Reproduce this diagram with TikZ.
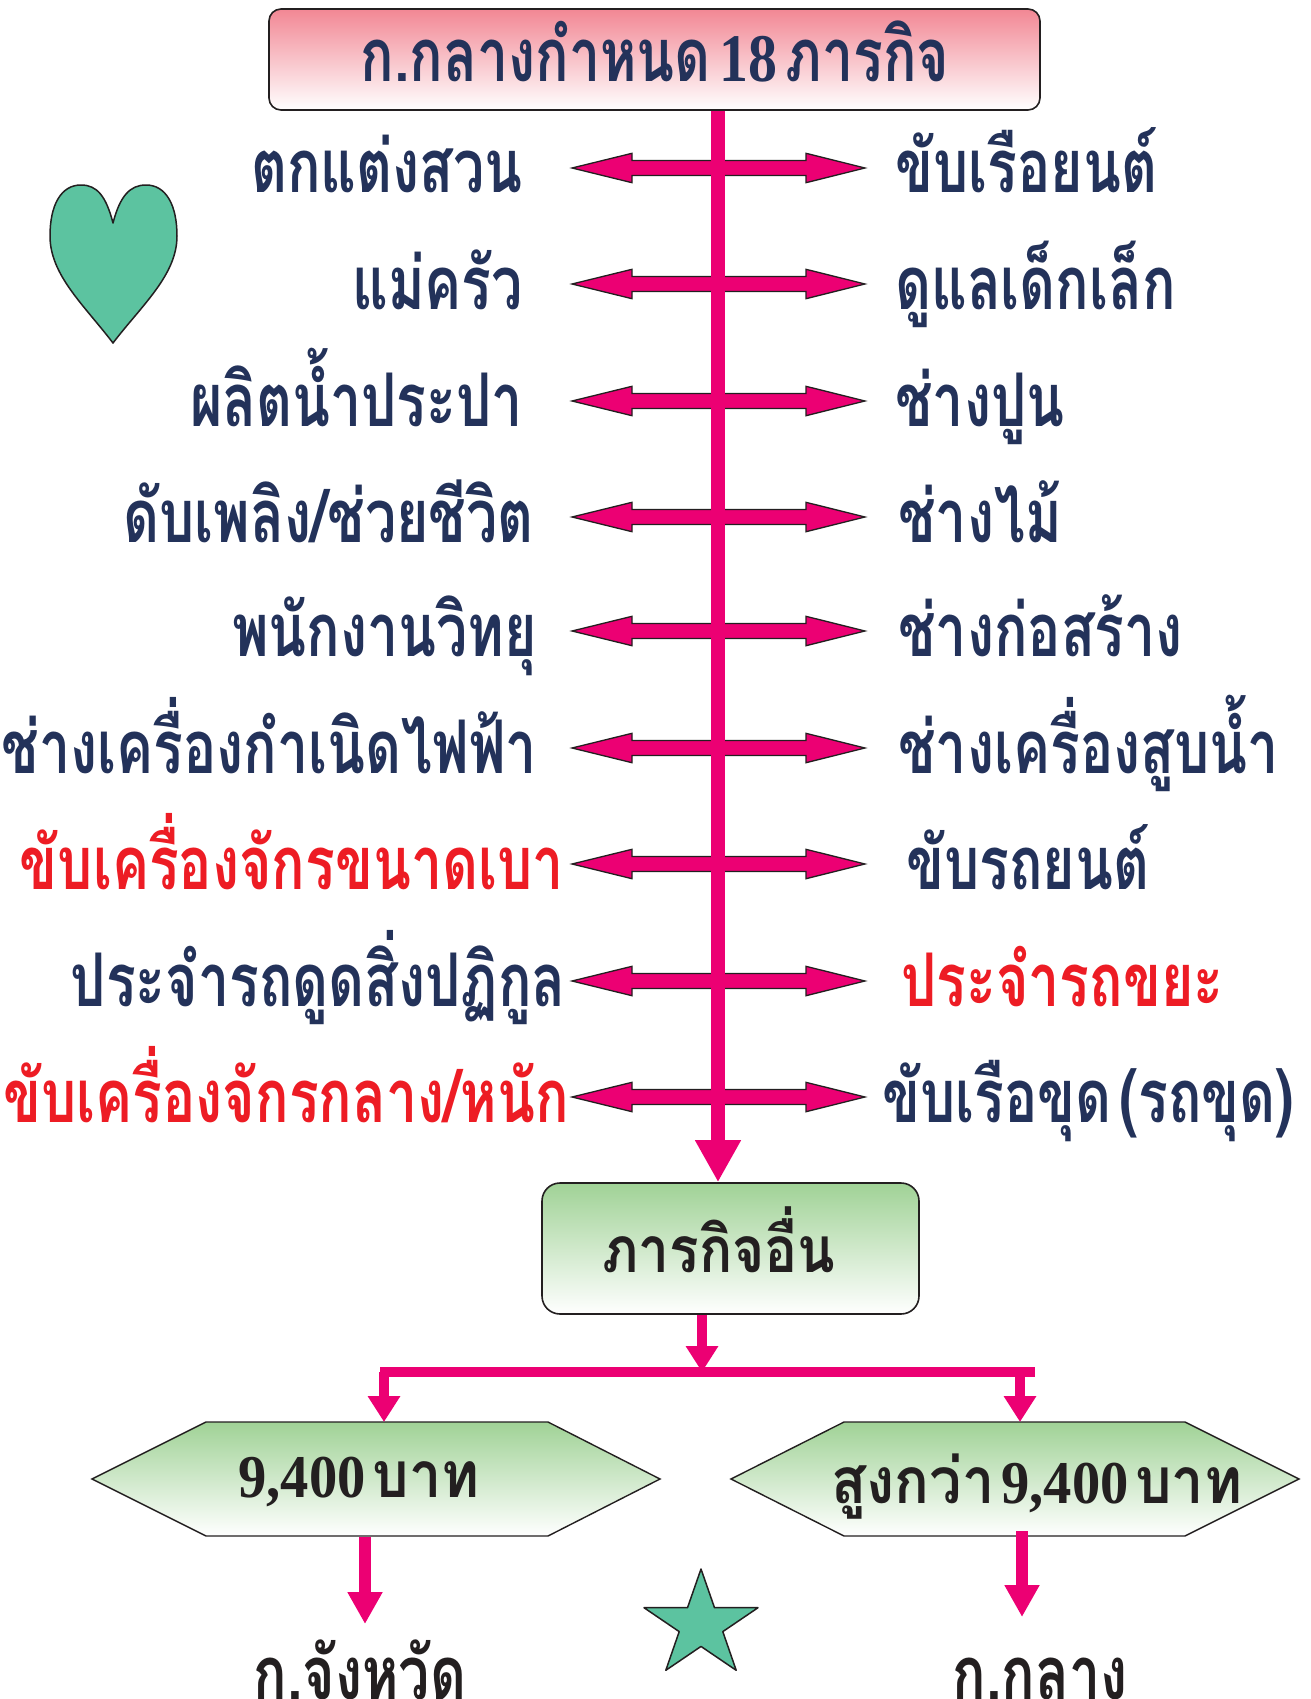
\documentclass[tikz,border=0pt]{standalone}
\usepackage{fontspec}
\newfontfamily\thai[Script=Thai,FakeStretch=0.75,WordSpace=0.45]{Loma}
\newfontfamily\thaib[Script=Thai,FakeStretch=0.86]{Loma}
\newfontfamily\thaic[Script=Thai,FakeStretch=0.9,WordSpace=0.35]{Loma}
\newfontfamily\numf[FakeStretch=0.85,Scale=0.92]{Liberation Serif}
\newfontfamily\numh[FakeStretch=0.93,Scale=0.95]{Liberation Serif}
\usetikzlibrary{arrows.meta}
\definecolor{navy}{RGB}{35,50,90}
\definecolor{redt}{RGB}{237,28,36}
\definecolor{pinkA}{RGB}{236,0,115}
\definecolor{boxpink}{RGB}{242,135,148}
\definecolor{boxgreen}{RGB}{160,210,150}
\definecolor{tealf}{RGB}{92,195,160}
\definecolor{ink}{RGB}{35,31,32}
\tikzset{
  thl/.style={font=\thai\bfseries\fontsize{74}{80}\selectfont, inner sep=0pt},
  thb/.style={font=\thaib\bfseries\fontsize{64}{70}\selectfont, inner sep=0pt},
  thh/.style={font=\thaic\bfseries\fontsize{64}{70}\selectfont, inner sep=0pt},
  lab/.style={thl, text=navy},
  labred/.style={thl, text=redt},
  lableft/.style={anchor=base east},
  labright/.style={anchor=base west},
  pinkbox/.style={draw=ink, line width=1.6pt, rounded corners=12pt, top color=boxpink, bottom color=white, inner sep=0pt},
  greenbox/.style={draw=ink, line width=1.6pt, rounded corners=18pt, top color=boxgreen, bottom color=white, inner sep=0pt},
  hexa/.style={draw=ink, line width=1.4pt, top color=boxgreen, bottom color=white},
  dblarr/.style={fill=pinkA, draw=ink, line width=1.3pt, line join=miter},
  spine/.style={draw=pinkA, line width=14pt, line cap=butt, -{Triangle[width=43pt,length=42pt]}},
  conn/.style={draw=pinkA, line width=10pt, line cap=butt},
  connarr/.style={conn, -{Triangle[width=31pt,length=26pt]}},
  lowarr/.style={draw=pinkA, line width=12pt, line cap=butt, -{Triangle[width=33pt,length=32pt]}},
  deco/.style={fill=tealf, draw=ink, line width=1.5pt, line join=round}
}
\begin{document}
\begin{tikzpicture}[x=1pt,y=-1pt]
\useasboundingbox (0,0) rectangle (1310,1699);

% title box
\node[pinkbox, minimum width=771pt, minimum height=101pt] (title) at (654.5,59.5) {};
\node[lab, anchor=base] (titletxt) at (655,82) {ก.กลางกำหนด {\numf 18} ภารกิจ};

% other-missions box
\node[greenbox, minimum width=377pt, minimum height=131pt] (other) at (730.5,1248.5) {};
\node[thb, text=ink, anchor=base] (othertxt) at (719,1272) {ภารกิจอื่น};

% double arrows
\foreach \y in {168,284,401,517,631,748,864,981,1097}{
  \path[dblarr] (572,\y) -- (632,{\y-14.7}) -- (632,{\y-7.5}) -- (806,{\y-7.5}) -- (806,{\y-14.7})
     -- (865,\y) -- (806,{\y+14.7}) -- (806,{\y+7.5}) -- (632,{\y+7.5}) -- (632,{\y+14.7}) -- cycle;
}

% spine
\coordinate (sp) at (718,0);
\draw[spine] (title.south -| sp) -- (other.north -| sp);

% left labels
\node[lab, lableft] (l1) at (523,193) {ตกแต่งสวน};
\node[lab, lableft] (l2) at (523,309) {แม่ครัว};
\node[lab, lableft] (l3) at (523,426) {ผลิตน้ำประปา};
\node[lab, lableft] (l4) at (534,542) {ดับเพลิง/ช่วยชีวิต};
\node[lab, lableft] (l5) at (537,656) {พนักงานวิทยุ};
\node[lab, lableft] (l6) at (537,773) {ช่างเครื่องกำเนิดไฟฟ้า};
\node[labred, lableft] (l7) at (564,889) {ขับเครื่องจักรขนาดเบา};
\node[lab, lableft] (l8) at (566,1006) {ประจำรถดูดสิ่งปฏิกูล};
\node[labred, lableft] (l9) at (569,1122) {ขับเครื่องจักรกลาง/หนัก};

% right labels
\node[lab, labright] (r1) at (895,193) {ขับเรือยนต์};
\node[lab, labright] (r2) at (895,309) {ดูแลเด็กเล็ก};
\node[lab, labright] (r3) at (895,426) {ช่างปูน};
\node[lab, labright] (r4) at (898,542) {ช่างไม้};
\node[lab, labright] (r5) at (898,656) {ช่างก่อสร้าง};
\node[lab, labright] (r6) at (898,773) {ช่างเครื่องสูบน้ำ};
\node[lab, labright] (r7) at (906,889) {ขับรถยนต์};
\node[labred, labright] (r8) at (901,1006) {ประจำรถขยะ};
\node[lab, labright] (r9) at (882,1122) {ขับเรือขุด (รถขุด)};

% branch
\coordinate (br) at (702,1372);
\coordinate (hl) at (380,1372);
\coordinate (hr) at (1035,1372);
\draw[connarr] (other.south -| br) -- (br);
\draw[conn] (hl) -- (hr);

% hexagons
\coordinate (h1top) at (384,1422);
\coordinate (h2top) at (1020,1422);
\path[hexa] (92,1479) -- (206,1422) -- (548,1422) -- (660,1479) -- (548,1536) -- (206,1536) -- cycle;
\path[hexa] (731,1479) -- (844,1422) -- (1185,1422) -- (1299,1479) -- (1185,1536) -- (844,1536) -- cycle;
\node[thh, text=ink, anchor=base] (h1) at (359,1497) {{\numh 9,400} บาท};
\node[thh, text=ink, anchor=base] (h2) at (1037,1503) {สูงกว่า {\numh 9,400} บาท};
\draw[connarr] (h1top |- hl) -- (h1top);
\draw[connarr] (h2top |- hl) -- (h2top);

% bottom
\node[thl, text=ink, anchor=base] (prov) at (360,1699) {ก.จังหวัด};
\node[thl, text=ink, anchor=base] (cent) at (1040,1699) {ก.กลาง};
\coordinate (a1s) at (365,1537);
\coordinate (a2s) at (1022,1531);
\draw[lowarr] (a1s) -- (365,1624);
\draw[lowarr] (a2s) -- (1022,1617);

% heart
\path[deco] (113,223) .. controls (106,196) and (97,185) .. (81,185)
  .. controls (61,185) and (50,205) .. (50,236)
  .. controls (50,275) and (84,305) .. (113,343)
  .. controls (142,305) and (177,275) .. (177,236)
  .. controls (177,205) and (166,185) .. (146,185)
  .. controls (130,185) and (120,196) .. (113,223) -- cycle;

% star
\path[deco] (701,1569) -- (687.5,1607.7) -- (644,1607.7) -- (679.2,1631.6) -- (665.8,1670.3)
  -- (701,1646.4) -- (736.2,1670.3) -- (722.8,1631.6) -- (758,1607.7) -- (714.5,1607.7) -- cycle;
\end{tikzpicture}
\end{document}
